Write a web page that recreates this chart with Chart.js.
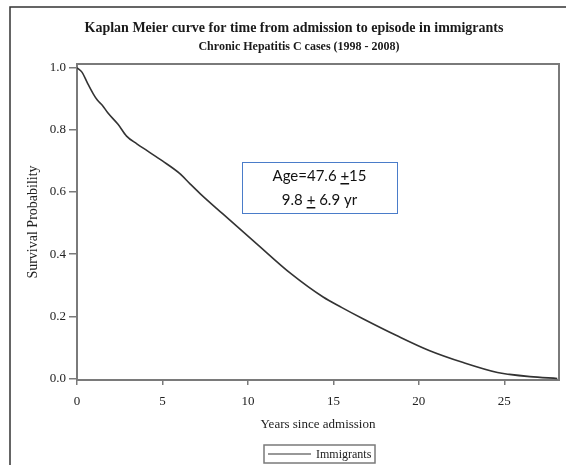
<!DOCTYPE html>
<html>
<head>
<meta charset="utf-8">
<script src="https://cdn.jsdelivr.net/npm/chart.js@4/dist/chart.umd.min.js"></script>
<style>
  html, body { margin: 0; padding: 0; background: #fff; }
  #wrap { width: 566px; height: 465px; }
</style>
</head>
<body>
<div id="wrap"><canvas id="km"></canvas></div>
<script>
// Kaplan-Meier survival estimate, immigrants
const years    = [0, 0.3, 0.6, 0.95, 1.2, 1.5, 1.8, 2.4, 2.9, 3.5, 4.1, 5.0, 6.0, 6.6, 7.2, 8.5, 10.5, 12.5, 14.4, 15.5, 16.7, 18.7, 20.6, 22.6, 24.6, 25.3, 26.5, 28.1];
const survival = [1.0, 0.985, 0.952, 0.916, 0.895, 0.878, 0.855, 0.818, 0.78, 0.755, 0.733, 0.70, 0.66, 0.627, 0.595, 0.531, 0.434, 0.338, 0.262, 0.228, 0.193, 0.138, 0.09, 0.051, 0.019, 0.013, 0.006, 0.0];
const xTicks = [0, 5, 10, 15, 20, 25];
const yTicks = [0.0, 0.2, 0.4, 0.6, 0.8, 1.0];

const titleText    = 'Kaplan Meier curve for time from admission to episode in immigrants';
const subtitleText = 'Chronic Hepatitis C cases (1998 - 2008)';
const seriesName   = 'Immigrants';

const SERIF = '"Liberation Serif", "Times New Roman", serif';
const AXIS_GREY = '#7a7a7a';

const points = years.map((x, i) => ({ x, y: survival[i] }));

// frame, titles, note box and legend
const decor = {
  id: 'decor',
  beforeDatasetsDraw(chart){
    const { ctx, chartArea: a } = chart;
    ctx.save();
    ctx.strokeStyle = AXIS_GREY;
    ctx.lineWidth = 2;
    ctx.strokeRect(a.left, a.top, a.right - a.left, a.bottom - a.top);
    ctx.restore();
  },
  afterDraw(chart){
    const { ctx } = chart;
    ctx.save();

    // outer frame
    ctx.strokeStyle = '#333';
    ctx.lineWidth = 1.5;
    ctx.beginPath();
    ctx.moveTo(10, 465);
    ctx.lineTo(10, 7);
    ctx.lineTo(566, 7);
    ctx.stroke();

    // titles
    ctx.fillStyle = '#1a1a1a';
    ctx.textAlign = 'center';
    ctx.textBaseline = 'middle';
    ctx.font = 'bold 14px ' + SERIF;
    ctx.fillText(titleText, 294, 28);
    ctx.font = 'bold 12px ' + SERIF;
    ctx.fillText(subtitleText, 299, 47);

    // note box
    ctx.fillStyle = '#fff';
    ctx.fillRect(242, 162, 155, 51);
    ctx.strokeStyle = '#4a7cc9';
    ctx.lineWidth = 1;
    ctx.strokeRect(242.5, 162.5, 155, 51);
    ctx.fillStyle = '#111';
    ctx.font = '15px Lato, "Open Sans", sans-serif';
    drawPlusMinus(ctx, ['Age=47.6 ', '+', '15'], 319.5, 176);
    drawPlusMinus(ctx, ['9.8 ', '+', ' 6.9 yr'], 319.5, 200);

    // legend
    ctx.strokeStyle = AXIS_GREY;
    ctx.lineWidth = 1.5;
    ctx.strokeRect(264, 445, 111, 18);
    ctx.strokeStyle = '#333';
    ctx.lineWidth = 1.2;
    ctx.beginPath();
    ctx.moveTo(268, 454);
    ctx.lineTo(311, 454);
    ctx.stroke();
    ctx.fillStyle = '#222';
    ctx.font = '12px ' + SERIF;
    ctx.textAlign = 'left';
    ctx.fillText(seriesName, 316, 454.5);

    ctx.restore();
  }
};

// text in three parts, middle '+' underlined to read as ±
function drawPlusMinus(ctx, parts, cx, cy){
  const widths = parts.map(p => ctx.measureText(p).width);
  const total = widths.reduce((s, w) => s + w, 0);
  let x = cx - total / 2;
  ctx.textAlign = 'left';
  ctx.textBaseline = 'middle';
  parts.forEach((p, i) => {
    ctx.fillText(p, x, cy);
    if(i === 1){
      ctx.fillRect(x, cy + 7, widths[i], 1.5);
    }
    x += widths[i];
  });
}

const ctx = document.getElementById('km').getContext('2d');
new Chart(ctx, {
  type: 'line',
  data: {
    datasets: [{
      label: seriesName,
      data: points,
      borderColor: '#333',
      borderWidth: 1.6,
      pointRadius: 0,
      cubicInterpolationMode: 'monotone',
      fill: false
    }]
  },
  options: {
    responsive: true,
    maintainAspectRatio: false,
    animation: false,
    layout: { padding: { left: 10, top: 64, right: 7, bottom: 30 } },
    plugins: {
      legend: { display: false },
      tooltip: { enabled: false }
    },
    scales: {
      x: {
        type: 'linear',
        min: 0,
        max: 28.2,
        afterBuildTicks: (axis) => { axis.ticks = xTicks.map(v => ({ value: v })); },
        afterFit: (axis) => { axis.height = 55; },
        ticks: {
          color: '#222',
          font: { family: SERIF, size: 13 },
          padding: 9,
          maxRotation: 0
        },
        grid: { display: true, drawOnChartArea: false, tickLength: 5, color: AXIS_GREY, lineWidth: 1.5 },
        border: { display: true, color: AXIS_GREY, width: 2 },
        title: {
          display: true,
          text: 'Years since admission',
          color: '#222',
          font: { family: SERIF, size: 13 },
          padding: { top: 0, bottom: 3 }
        }
      },
      y: {
        min: -0.005,
        max: 1.012,
        afterBuildTicks: (axis) => { axis.ticks = yTicks.map(v => ({ value: v })); },
        afterFit: (axis) => { axis.width = 67; },
        ticks: {
          color: '#222',
          font: { family: SERIF, size: 13 },
          padding: 3,
          callback: (v) => Number(v).toFixed(1)
        },
        grid: { display: true, drawOnChartArea: false, tickLength: 8, color: AXIS_GREY, lineWidth: 1.5 },
        border: { display: true, color: AXIS_GREY, width: 2 },
        title: {
          display: true,
          text: 'Survival Probability',
          color: '#222',
          font: { family: SERIF, size: 14 },
          padding: { top: 15, bottom: 0 }
        }
      }
    }
  },
  plugins: [decor]
});
</script>
</body>
</html>
